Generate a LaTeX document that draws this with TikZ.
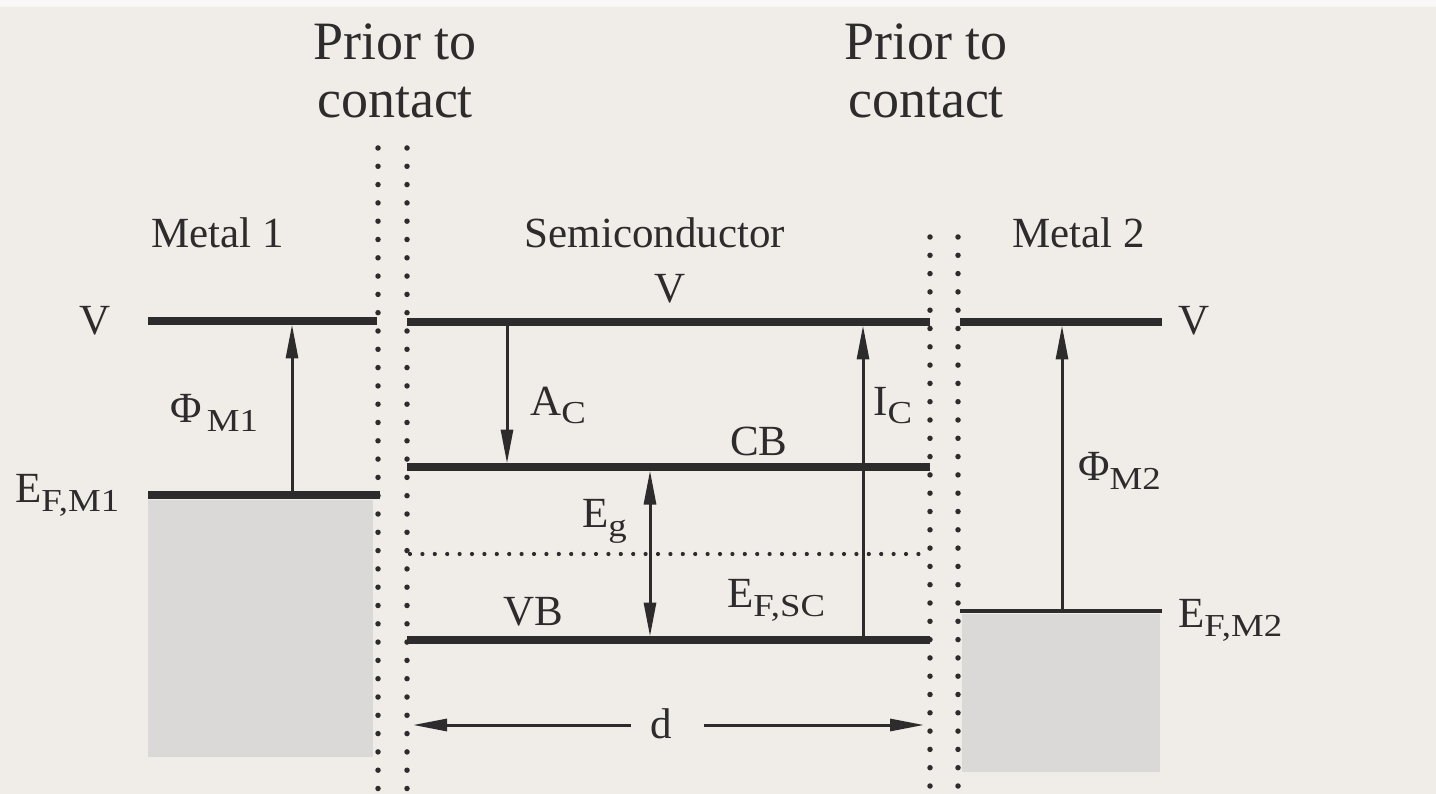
\documentclass[tikz,border=0pt]{standalone}
\usepackage{fontspec}
\setmainfont{Liberation Serif}
\newfontfamily\subfont[FakeStretch=1.15]{Liberation Serif}
\usetikzlibrary{arrows.meta}
\definecolor{paper}{RGB}{240,237,233}
\definecolor{ink}{RGB}{45,43,43}
\definecolor{bandgrey}{RGB}{218,217,215}
\newcommand\lsub[1]{\raisebox{-9pt}{\subfont\fontsize{32}{32}\selectfont #1}}
\begin{document}
\begin{tikzpicture}[x=1pt,y=-1pt,
  level/.style={draw=ink, line width=7.5pt},
  thinlevel/.style={draw=ink, line width=4.5pt},
  vdots/.style={draw=ink, line width=5.5pt, line cap=round, dash pattern=on 0pt off 18.3pt},
  hdots/.style={draw=ink, line width=4.2pt, line cap=round, dash pattern=on 0pt off 12.4pt},
  arr/.style={draw=ink, line width=3pt, -{Triangle[length=34pt,width=12pt]}},
  dblarr/.style={draw=ink, line width=3pt, {Triangle[length=34pt,width=12pt]}-{Triangle[length=34pt,width=12pt]}},
  lbl/.style={text=ink, font=\fontsize{43}{48}\selectfont, inner sep=0pt, anchor=base west},
  head/.style={text=ink, font=\fontsize{54}{58}\selectfont, inner sep=0pt, anchor=base}]

\useasboundingbox (0,0) rectangle (1436,794);
\fill[paper] (0,0) rectangle (1436,794);
\fill[white!60!paper] (0,0) rectangle (1436,7);

% shaded metal bands
\fill[bandgrey] (148,500) rectangle (373,757);
\fill[bandgrey] (962,614) rectangle (1160,772);

% coordinates
\coordinate (g1t) at (378,148); \coordinate (g1b) at (378,800);
\coordinate (g2t) at (407,148); \coordinate (g2b) at (407,800);
\coordinate (g3t) at (930,237); \coordinate (g3b) at (930,800);
\coordinate (g4t) at (958,237); \coordinate (g4b) at (958,800);

\coordinate (m1vl) at (148,321); \coordinate (m1vr) at (377,321);
\coordinate (m1fl) at (148,495); \coordinate (m1fr) at (380,495);
\coordinate (scvl) at (407,322); \coordinate (scvr) at (930,322);
\coordinate (sccl) at (407,467); \coordinate (sccr) at (930,467);
\coordinate (scvbl) at (407,640); \coordinate (scvbr) at (930,640);
\coordinate (scfl) at (410,554); \coordinate (scfr) at (928,554);
\coordinate (m2vl) at (960,322); \coordinate (m2vr) at (1162,322);
\coordinate (m2fl) at (960,611); \coordinate (m2fr) at (1162,611);

\coordinate (phi1a) at (292,495); \coordinate (phi1b) at (292,324.5);
\coordinate (aca) at (507,322); \coordinate (acb) at (507,463.5);
\coordinate (ega) at (650,470.5); \coordinate (egb) at (650,636.5);
\coordinate (ica) at (863,640); \coordinate (icb) at (863,325.5);
\coordinate (phi2a) at (1062,611); \coordinate (phi2b) at (1062,325.5);
\coordinate (dl1) at (631,725); \coordinate (dl2) at (413,725);
\coordinate (dr1) at (704,725); \coordinate (dr2) at (924,725);

% dotted gaps
\draw[vdots] (g1t) -- (g1b);
\draw[vdots] (g2t) -- (g2b);
\draw[vdots] (g3t) -- (g3b);
\draw[vdots] (g4t) -- (g4b);

% levels
\draw[level] (m1vl) -- (m1vr);
\draw[level] (m1fl) -- (m1fr);
\draw[level] (scvl) -- (scvr);
\draw[level] (sccl) -- (sccr);
\draw[level] (scvbl) -- (scvbr);
\draw[hdots] (scfl) -- (scfr);
\draw[level] (m2vl) -- (m2vr);
\draw[thinlevel] (m2fl) -- (m2fr);

% arrows
\draw[arr] (phi1a) -- (phi1b);
\draw[arr] (aca) -- (acb);
\draw[dblarr] (ega) -- (egb);
\draw[arr] (ica) -- (icb);
\draw[arr] (phi2a) -- (phi2b);
\draw[arr] (dl1) -- (dl2);
\draw[arr] (dr1) -- (dr2);

% headings
\node[head] (p1a) at (395,60) {Prior to};
\node[head] (p1b) at (395,118) {contact};
\node[head] (p2a) at (926,60) {Prior to};
\node[head] (p2b) at (926,118) {contact};

\node[lbl] (metal1) at (151,248) {Metal 1};
\node[lbl, anchor=base] (semi) at (655,248) {Semiconductor};
\node[lbl] (metal2) at (1012,248) {Metal 2};

% labels
\node[lbl, anchor=base] (v1) at (95,335) {V};
\node[lbl, anchor=base] (v2) at (670,303) {V};
\node[lbl] (v3) at (1178,335) {V};
\node[lbl] (ef1) at (15,502) {E\lsub{F,M1}};
\node[lbl] (phi1) at (170,423) {Φ\lsub{\,M1}};
\node[lbl] (ac) at (530,415) {A\lsub{C}};
\node[lbl] (cb) at (730,455) {CB};
\node[lbl] (ic) at (873,415) {I\lsub{C}};
\node[lbl] (eg) at (582,527) {E\lsub{g}};
\node[lbl] (vb) at (503,625) {VB};
\node[lbl] (efsc) at (727,607) {E\lsub{F,SC}};
\node[lbl] (phi2) at (1078,480) {Φ\lsub{M2}};
\node[lbl] (ef2) at (1178,627) {E\lsub{F,M2}};
\node[lbl, anchor=base] (d) at (661,738) {d};
\end{tikzpicture}
\end{document}
